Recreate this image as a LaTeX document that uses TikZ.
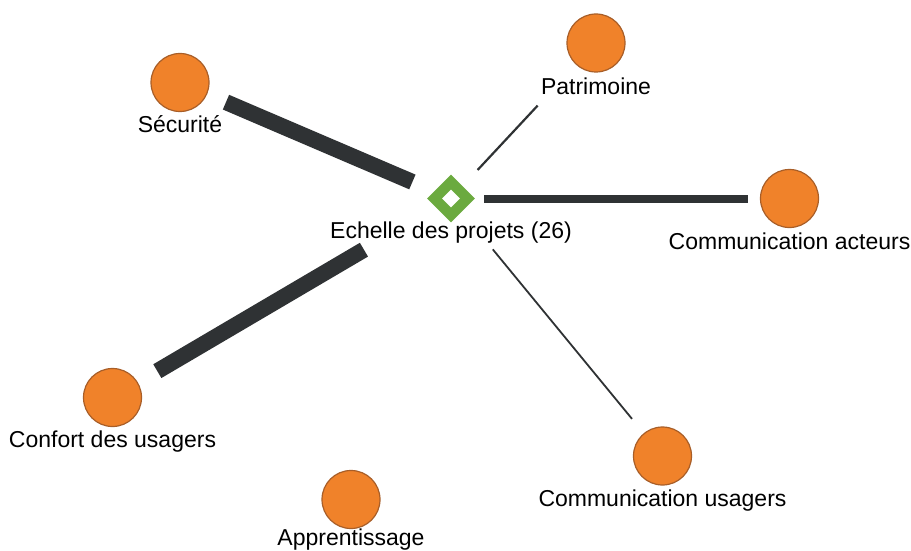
\documentclass[tikz,border=0pt]{standalone}
\usepackage{fontspec}
\setmainfont{Liberation Sans}
\usetikzlibrary{shapes.geometric}
\definecolor{nodeorange}{HTML}{F0822A}
\definecolor{nodeborder}{HTML}{A85E28}
\definecolor{hubgreen}{HTML}{6BAA3F}
\definecolor{edgedark}{HTML}{2F3234}
\tikzset{
  topic/.style={circle, fill=nodeorange, draw=nodeborder, line width=1.2pt, minimum size=58pt, inner sep=0pt},
  lbl/.style={anchor=base, inner sep=0pt, font=\fontsize{23}{27}\selectfont, text=black},
  hub/.style={diamond, fill=hubgreen, minimum size=48pt, inner sep=0pt},
  hubhole/.style={diamond, fill=white, minimum size=18pt, inner sep=0pt},
  link/.style={draw=edgedark, line cap=butt}
}
\begin{document}
\begin{tikzpicture}[x=1pt,y=-1pt]
\useasboundingbox (0,0) rectangle (911,551);
% hub
\node[hub] (ech) at (451,198.5) {};
\node[hubhole] (echhole) at (451,198.5) {};
\node[lbl] (echlbl) at (451,238) {Echelle des projets (26)};
% topics
\node[topic] (sec) at (180,82.5) {};
\node[lbl] (seclbl) at (180,132) {Sécurité};
\node[topic] (pat) at (596,43) {};
\node[lbl] (patlbl) at (596,95) {Patrimoine};
\node[topic] (act) at (789.5,198.5) {};
\node[lbl] (actlbl) at (789.5,249) {Communication acteurs};
\node[topic] (usa) at (662.5,456) {};
\node[lbl] (usalbl) at (662.5,506) {Communication usagers};
\node[topic] (app) at (351,499.5) {};
\node[lbl] (applbl) at (351,545.5) {Apprentissage};
\node[topic] (con) at (112.5,397.5) {};
\node[lbl] (conlbl) at (112.5,447) {Confort des usagers};
% links
\draw[link, line width=16pt, shorten <=50pt, shorten >=42pt] (sec.center) -- (ech.center);
\draw[link, line width=16pt, shorten <=52pt, shorten >=101pt] (con.center) -- (ech.center);
\draw[link, line width=8pt, shorten <=33pt, shorten >=41.5pt] (ech.center) -- (act.center);
\draw[link, line width=2.2pt, shorten <=39pt, shorten >=85.6pt] (ech.center) -- (pat.center);
\draw[link, line width=1.8pt, shorten <=65.8pt, shorten >=48pt] (ech.center) -- (usa.center);
\end{tikzpicture}
\end{document}
